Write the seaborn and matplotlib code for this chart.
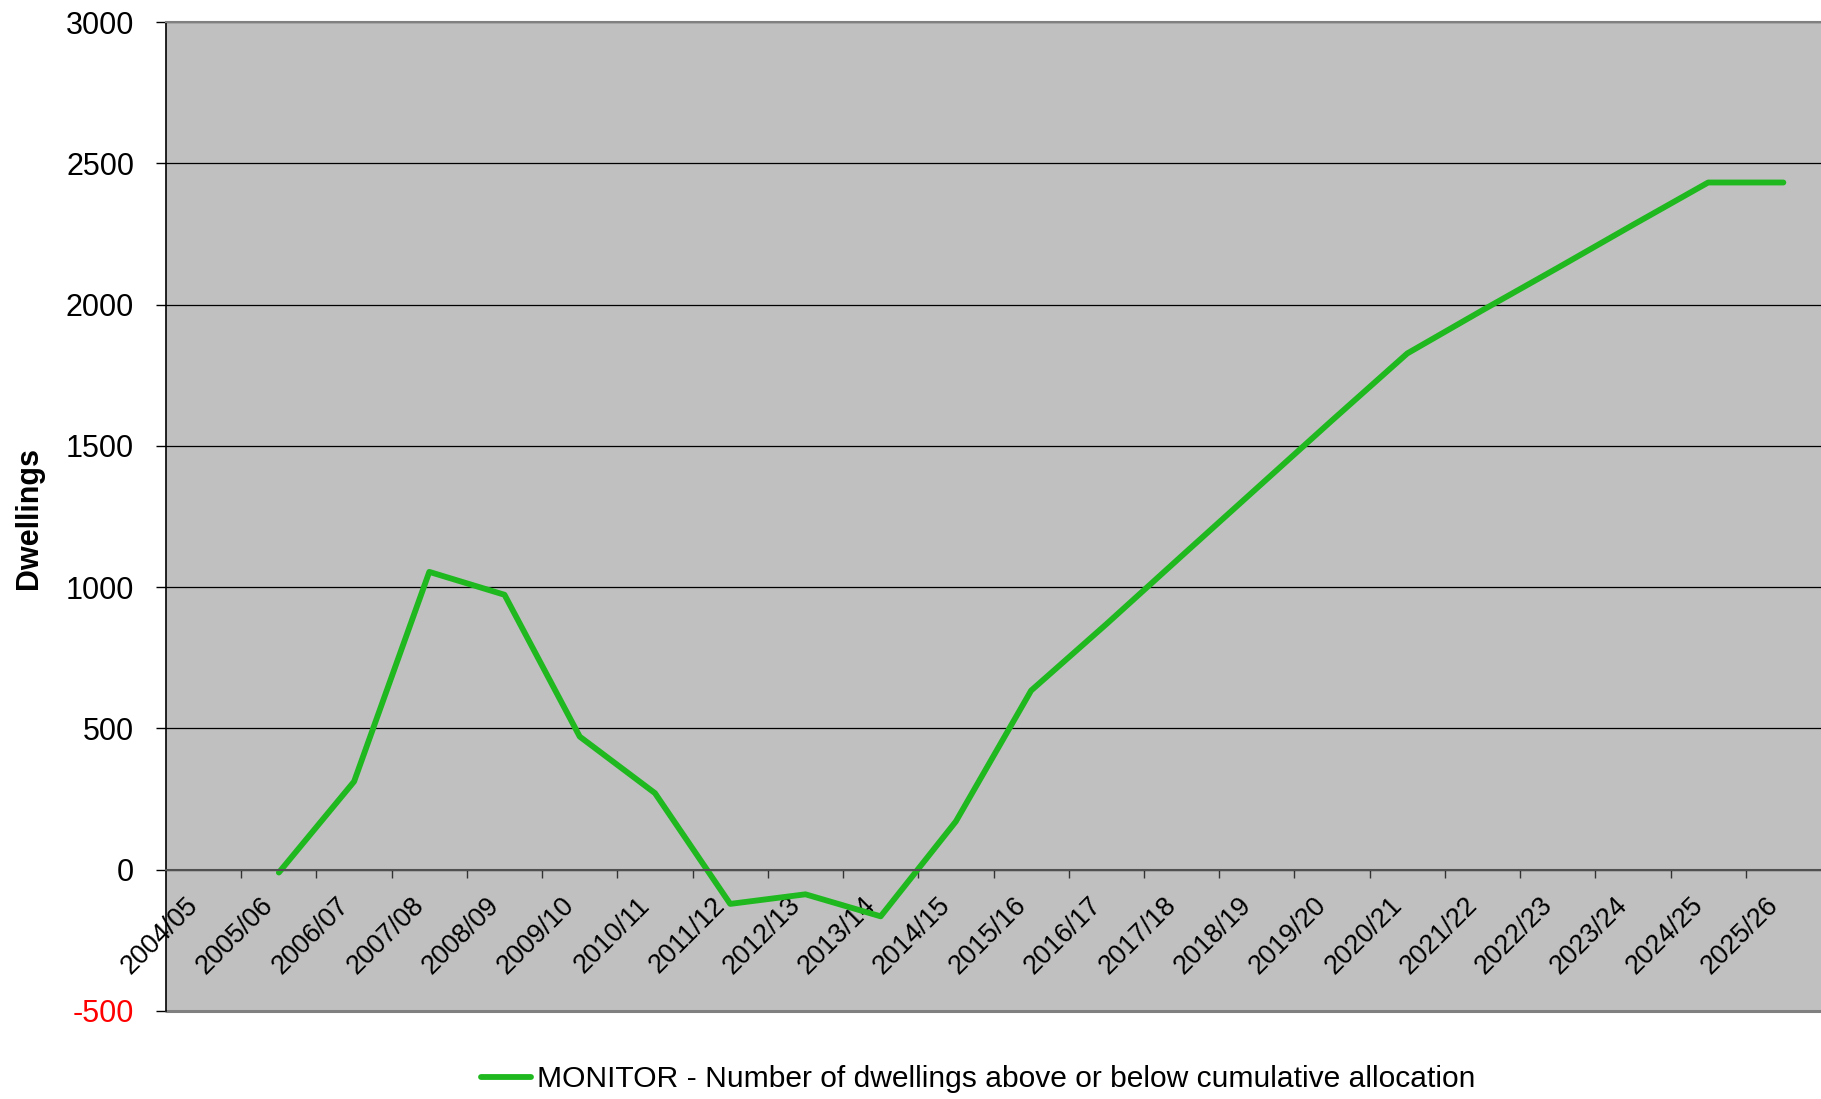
import numpy as np
import pandas as pd
import seaborn as sns
import matplotlib.pyplot as plt

# data
years = ['2004/05', '2005/06', '2006/07', '2007/08', '2008/09', '2009/10',
         '2010/11', '2011/12', '2012/13', '2013/14', '2014/15', '2015/16',
         '2016/17', '2017/18', '2018/19', '2019/20', '2020/21', '2021/22',
         '2022/23', '2023/24', '2024/25', '2025/26']
dwellings = [np.nan, -10, 312, 1054, 973, 471, 271, -121, -87, -165, 171, 634,
             869, 1110, 1350, 1590, 1827, 1980, 2130, 2282, 2432, 2432]
y_ticks = [-500, 0, 500, 1000, 1500, 2000, 2500, 3000]
series_name = 'MONITOR - Number of dwellings above or below cumulative allocation'

df = pd.DataFrame({'pos': np.arange(len(years)), 'Dwellings': dwellings})

sns.set_theme(style='white')
plt.rcParams['font.family'] = ['Liberation Sans', 'DejaVu Sans']
plt.rcParams['text.color'] = 'black'
plt.rcParams['xtick.color'] = 'black'
plt.rcParams['ytick.color'] = 'black'
plt.rcParams['axes.labelcolor'] = 'black'

W, H = 1821, 1099
fig = plt.figure(figsize=(W / 100, H / 100), dpi=100)
ax = fig.add_axes([166 / W, 1 - 1011 / H, 1 - 166 / W, (1011 - 22) / H])
ax.set_facecolor('#c0c0c0')

sns.lineplot(data=df, x='pos', y='Dwellings', color='#1fb91f', linewidth=4.2,
             solid_capstyle='round', label=series_name, legend=False, ax=ax)

# category axis crosses at zero (set before ticks, it resets them)
ax.spines['bottom'].set_position(('data', 0))
ax.spines['bottom'].set_color('#505050')
ax.spines['bottom'].set_linewidth(1.5)
ax.spines['left'].set_color('black')
ax.spines['left'].set_linewidth(1.2)
ax.spines['top'].set_color('#808080')
ax.spines['top'].set_linewidth(1.5)
ax.spines['right'].set_visible(False)
ax.axhline(-500, color='#808080', linewidth=2.2, clip_on=False)

ax.set_xlim(-0.5, len(years) - 0.5)
ax.set_ylim(-500, 3000)
ax.set_yticks(y_ticks)
ax.set_yticklabels([str(v) for v in y_ticks], fontsize=22)
ax.get_yticklabels()[0].set_color('red')
ax.yaxis.grid(True, color='black', linewidth=0.9)
ax.set_axisbelow(True)
ax.tick_params(axis='y', direction='out', length=7, width=1, color='black',
               pad=16, left=True)

ax.set_xticks(np.arange(len(years)))
ax.set_xticklabels(years, fontsize=19.4, rotation=45, ha='right', va='bottom',
                   rotation_mode='anchor')
ax.set_xticks(np.arange(0.5, len(years) - 0.5, 1), minor=True)
ax.tick_params(axis='x', which='major', length=0, pad=29.5)
ax.tick_params(axis='x', which='minor', direction='out', length=5.5,
               width=1, color='#333333', bottom=True)

ax.set_xlabel('')
ax.set_ylabel('Dwellings', fontsize=22, fontweight='bold')
ax.yaxis.set_label_coords(44 / W, 1 - 518 / H, transform=fig.transFigure)

handles, labels = ax.get_legend_handles_labels()
fig.legend(handles, labels, loc='center', bbox_to_anchor=(978 / W, 1 - 1079 / H),
           frameon=False, fontsize=21.6, handlelength=1.67, handletextpad=0.2)

plt.savefig('out.png', dpi=100)
